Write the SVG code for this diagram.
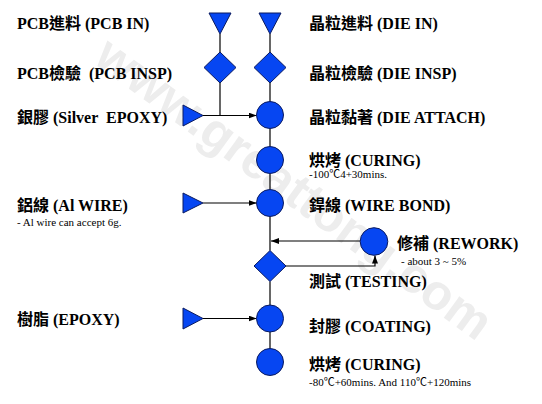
<svg xmlns="http://www.w3.org/2000/svg" width="542" height="404" viewBox="0 0 542 404">
<style>
.shape{fill:#0646f2;stroke:#0a1a60;stroke-width:1}
.wire{stroke:#000;stroke-width:1.2;fill:none}
</style>
<defs>
<marker id="arr" markerUnits="userSpaceOnUse" markerWidth="8" markerHeight="6" refX="8" refY="3" orient="auto">
<path d="M0,0 L8,3 L0,6 z" fill="#000"/>
</marker>
</defs>
<rect width="542" height="404" fill="#fff"/>
<text transform="translate(92,62) rotate(36)" font-family="Liberation Sans, Arial, sans-serif" font-size="50" font-weight="bold" fill="#ededed">www.greattong.com</text>

<g id="connectors">
<line class="wire" x1="220" y1="34" x2="220" y2="52"/>
<line class="wire" x1="220" y1="83" x2="220" y2="115.5"/>
<line class="wire" x1="270" y1="34" x2="270" y2="52"/>
<line class="wire" x1="270" y1="83" x2="270" y2="101.5"/>
<line class="wire" x1="270" y1="128.5" x2="270" y2="146.5"/>
<line class="wire" x1="270" y1="173.5" x2="270" y2="189.5"/>
<line class="wire" x1="270" y1="216.5" x2="270" y2="250.5"/>
<line class="wire" x1="270" y1="281.5" x2="270" y2="305"/>
<line class="wire" x1="270" y1="332" x2="270" y2="348.5"/>
<line class="wire" x1="203" y1="115.5" x2="256.5" y2="115.5" marker-end="url(#arr)"/>
<line class="wire" x1="203" y1="203" x2="256.5" y2="203" marker-end="url(#arr)"/>
<line class="wire" x1="203" y1="318.5" x2="256.5" y2="318.5" marker-end="url(#arr)"/>
<line class="wire" x1="360.5" y1="241" x2="271" y2="241" marker-end="url(#arr)"/>
<polyline class="wire" points="286,266 375,266 375,255.5" marker-end="url(#arr)"/>
</g>

<g id="nodes" font-family="Liberation Serif, Noto Sans CJK TC, serif" font-size="16" font-weight="bold" fill="#000">
<g id="pcb-in"><polygon class="shape" points="209,13 231,13 220,34"/><text x="17" y="29">PCB進料 (PCB IN)</text></g>
<g id="die-in"><polygon class="shape" points="259,13 281,13 270,34"/><text x="309" y="29">晶粒進料 (DIE IN)</text></g>
<g id="pcb-insp"><polygon class="shape" points="220,52 236,67.5 220,83 204,67.5"/><text x="17" y="79" xml:space="preserve">PCB檢驗  (PCB INSP)</text></g>
<g id="die-insp"><polygon class="shape" points="270,52 286,67.5 270,83 254,67.5"/><text x="309" y="79">晶粒檢驗 (DIE INSP)</text></g>
<g id="silver-epoxy"><polygon class="shape" points="183,105 183,126 203,115.5"/><text x="17" y="123" xml:space="preserve">銀膠 (Silver  EPOXY)</text></g>
<g id="die-attach"><circle class="shape" cx="270" cy="115" r="13.5"/><text x="309" y="123">晶粒黏著 (DIE ATTACH)</text></g>
<g id="curing-1"><circle class="shape" cx="270" cy="160" r="13.5"/><text x="309" y="166">烘烤 (CURING)</text><text x="309" y="178" font-size="11" font-weight="normal">-100℃4+30mins.</text></g>
<g id="al-wire"><polygon class="shape" points="183,193 183,213 203,203"/><text x="17" y="211">鋁線 (Al WIRE)</text><text x="17" y="226" font-size="11" font-weight="normal">- Al wire can accept 6g.</text></g>
<g id="wire-bond"><circle class="shape" cx="270" cy="203" r="13.5"/><text x="309" y="211">銲線 (WIRE BOND)</text></g>
<g id="rework"><circle class="shape" cx="374" cy="241.5" r="13.8"/><text x="397" y="249">修補 (REWORK)</text><text x="401" y="265" font-size="11" font-weight="normal">- about 3 ~ 5%</text></g>
<g id="testing"><polygon class="shape" points="270,250.5 286,266 270,281.5 254,266"/><text x="309" y="287">測試 (TESTING)</text></g>
<g id="epoxy"><polygon class="shape" points="183,308 183,329 203,318.5"/><text x="17" y="325">樹脂 (EPOXY)</text></g>
<g id="coating"><circle class="shape" cx="270" cy="318.5" r="13.5"/><text x="309" y="332">封膠 (COATING)</text></g>
<g id="curing-2"><circle class="shape" cx="270" cy="362" r="13.5"/><text x="309" y="370">烘烤 (CURING)</text><text x="309" y="386" font-size="11" font-weight="normal">-80℃+60mins. And 110℃+120mins</text></g>
</g>
</svg>
